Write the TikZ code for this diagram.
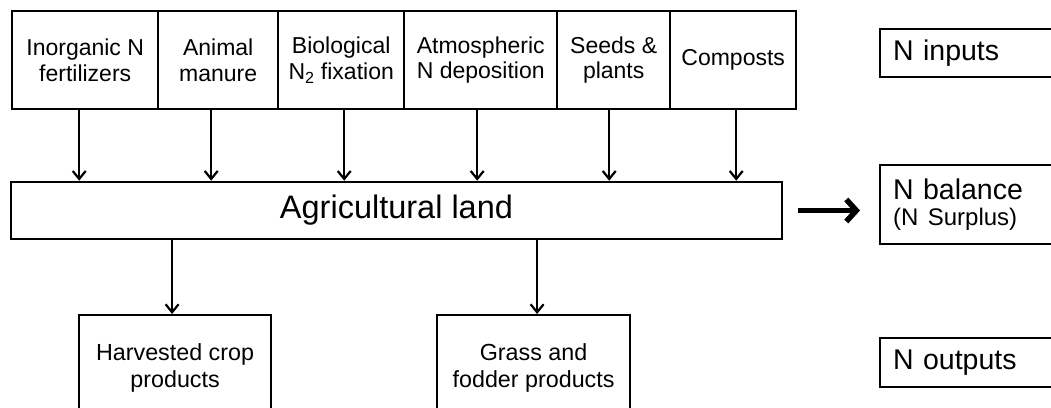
\documentclass[tikz,border=0pt]{standalone}
\usepackage{fontspec}
\setmainfont{Liberation Sans}
\usetikzlibrary{arrows.meta,calc}
\tikzset{
  inbox/.style={draw, line width=2.4pt, anchor=north west, minimum height=98pt, inner sep=0pt, align=center,
    font={\fontsize{23}{25.5}\selectfont}},
  landbox/.style={draw, line width=2.6pt, minimum width=771pt, minimum height=57pt, inner sep=0pt,
    font={\fontsize{32.5}{34}\selectfont}},
  outbox/.style={draw, line width=2.2pt, anchor=north west, minimum height=106pt, inner sep=0pt, align=center,
    font={\fontsize{23.3}{27}\selectfont}},
  keybox/.style={draw, line width=2pt, anchor=north west, minimum width=220pt, text width=194pt, inner xsep=13pt, inner ysep=0pt, align=left,
    font={\fontsize{28.5}{27}\selectfont}},
  arr/.style={line width=2.2pt, -{Straight Barb[length=8pt,width=13pt,line width=2.2pt]}},
  bigarr/.style={line width=5.5pt, -{Straight Barb[length=10pt,width=22pt,line width=5.5pt]}},
}
\begin{document}
\begin{tikzpicture}[x=1pt,y=-1pt]
\useasboundingbox (0,0) rectangle (1051,407);
\clip (0,0) rectangle (1051,407);
\fill[white] (0,0) rectangle (1051,407);
% inputs
\node[inbox, minimum width=146pt] (inorg) at (11,10) {Inorganic N\\fertilizers};
\node[inbox, minimum width=120pt] (manure) at (157,10) {Animal\\manure};
\node[inbox, minimum width=126pt] (bio) at (277,10) {Biological\\N\textsubscript{2} fixation};
\node[inbox, minimum width=153pt] (atm) at (403,10) {Atmospheric\\N deposition};
\node[inbox, minimum width=113pt] (seeds) at (556,10) {Seeds \&\\plants};
\node[inbox, minimum width=126pt] (comp) at (669,10) {Composts};
% land
\node[landbox] (land) at (396.5,210.5) {Agricultural land};
% outputs
\node[outbox, minimum width=192pt] (harv) at (78,314) {Harvested crop\\products};
\node[outbox, minimum width=193pt] (grass) at (436,314) {Grass and\\fodder products};
% key boxes
\node[keybox, minimum height=48pt] (kin) at (879,28) {N inputs};
\node[keybox, minimum height=79pt] (kbal) at (879,164) {N balance\\[-1pt]{\fontsize{24}{27}\selectfont(N Surplus)}};
\node[keybox, minimum height=49pt] (kout) at (879,337) {N outputs};
% arrows in
\draw[arr] ([xshift=-6pt]inorg.south) -- ([xshift=-6pt]inorg.south |- land.north);
\draw[arr] ([xshift=-7pt]manure.south) -- ([xshift=-7pt]manure.south |- land.north);
\draw[arr] ([xshift=3pt]bio.south) -- ([xshift=3pt]bio.south |- land.north);
\draw[arr] ([xshift=-3.5pt]atm.south) -- ([xshift=-3.5pt]atm.south |- land.north);
\draw[arr] ([xshift=-4.5pt]seeds.south) -- ([xshift=-4.5pt]seeds.south |- land.north);
\draw[arr] ([xshift=3pt]comp.south) -- ([xshift=3pt]comp.south |- land.north);
% arrows out
\draw[arr] ([xshift=-3pt]harv.north |- land.south) -- ([xshift=-3pt]harv.north);
\draw[arr] ([xshift=3.5pt]grass.north |- land.south) -- ([xshift=3.5pt]grass.north);
% balance arrow
\draw[bigarr] ([xshift=15pt]land.east) -- ([xshift=-19pt]land.east -| kbal.west);
\end{tikzpicture}
\end{document}
